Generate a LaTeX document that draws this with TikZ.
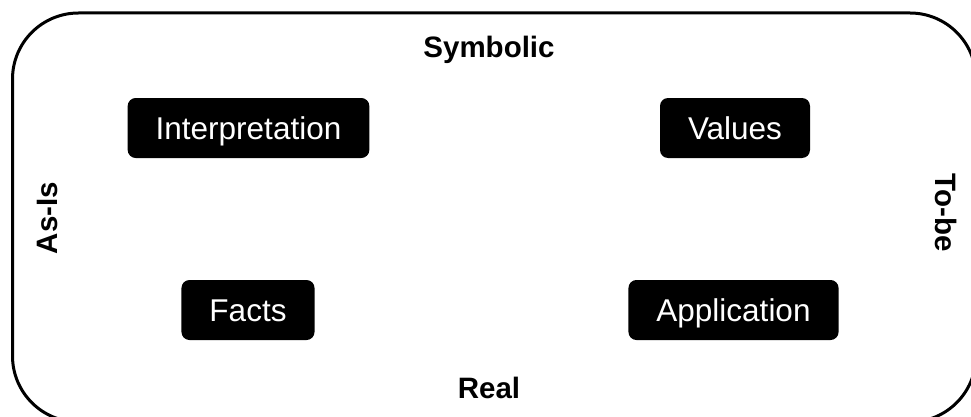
\documentclass[tikz,border=0pt]{standalone}
\usepackage{fontspec}
\setmainfont{Liberation Sans}
\usetikzlibrary{positioning}

\begin{document}
\begin{tikzpicture}[
    x=1pt, y=1pt,
    frame/.style={draw=black, line width=3pt, rounded corners=66pt},
    box/.style={fill=black, text=white, rounded corners=8pt,
        minimum height=60pt, inner xsep=28pt, inner ysep=0pt,
        text height=22pt, text depth=0pt, font=\fontsize{31.5}{37}\selectfont},
    axis/.style={anchor=base, inner sep=0pt, font=\fontsize{29.5}{35}\selectfont\bfseries},
]
\useasboundingbox (0,0) rectangle (971,416);
\clip (0,0) rectangle (971,416);

% outer frame, runs past the right and bottom edge
\draw[frame] (12.5,403) rectangle (976,-6);

% quadrants
\node[box] (interp) at (248.5,288) {Interpretation};
\node[box] (values) at (735,288) {Values};
\node[box] (facts) at (248,106) {Facts};
\node[box] (appl) at (733.5,106) {Application};

% axis labels
\node[axis] (symb) at (489,358) {Symbolic};
\node[axis] (real) at (489,18) {Real};
\node[axis, rotate=90] (asis) at (57,198) {As-Is};
\node[axis, rotate=-90] (tobe) at (935,203) {To-be};
\end{tikzpicture}
\end{document}
